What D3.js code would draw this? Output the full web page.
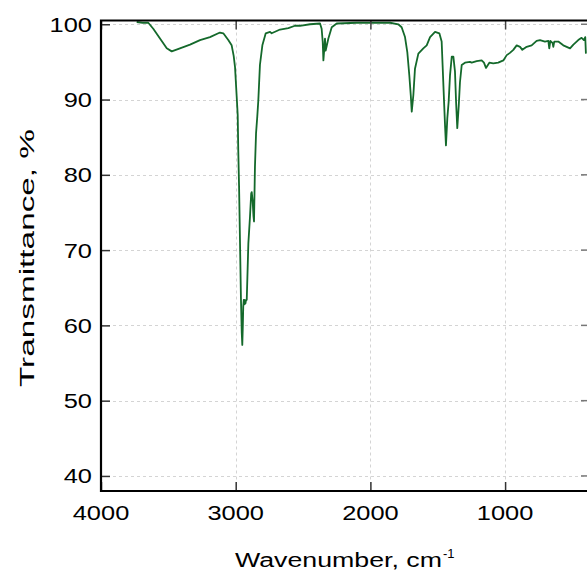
<!DOCTYPE html>
<html>
<head>
<meta charset="utf-8">
<script src="https://cdn.jsdelivr.net/npm/d3@7"></script>
<style>
  html, body { margin: 0; padding: 0; background: #fff; overflow: hidden; }
  svg { display: block; overflow: hidden; }
  text { font-family: "Liberation Sans", Arial, sans-serif; fill: #000; }
</style>
</head>
<body>
<svg id="chart" width="587" height="571"></svg>
<script>
// Wavenumber (cm^-1) and transmittance (%)
const wavenumber = [3735,3690,3649,3612,3562,3512,3475,3414,3339,3265,3191,3117,3092,3055,3030,3015,3005,2993,2985,2981,2975,2968,2961,2955,2951,2947,2944,2940,2936,2932,2928,2924,2918,2906,2894,2885,2881,2877,2874,2868,2864,2857,2849,2840,2832,2820,2802,2777,2745,2733,2708,2671,2609,2560,2523,2448,2374,2362,2354,2349,2342,2337,2332,2312,2287,2250,2102,1978,1854,1793,1768,1743,1726,1711,1700,1693,1681,1669,1644,1607,1582,1557,1520,1488,1471,1464,1454,1446,1439,1429,1419,1409,1396,1384,1372,1364,1355,1344,1335,1322,1298,1261,1248,1211,1174,1157,1142,1117,1088,1051,1013,988,964,939,914,889,872,840,803,766,741,704,679,672,664,647,642,635,605,568,518,493,457,432,415,405,400];
const transmittance = [100.3,100.2,100.2,99.4,98.1,96.8,96.4,96.8,97.3,97.9,98.3,98.9,98.8,97.9,97.2,95.8,94.3,90.5,87.9,83.3,78.5,71,63.5,59,57.4,60,62.5,63.4,62.8,63.4,62.9,63.3,63.4,70.9,74.4,77.5,77.7,77.0,76.5,74.5,73.8,81.1,85.5,87.7,89.9,94.6,97.2,98.8,99.0,98.8,99.0,99.3,99.5,99.8,99.8,100,100.1,99.4,97.7,95.2,96.8,98.1,96.5,98.1,99.6,100.1,100.2,100.2,100.2,100.0,99.6,98.3,96.3,93.2,90.5,88.4,90.6,94.1,96.1,96.8,97.2,98.3,99.0,98.8,97.7,94.6,90.1,86.6,83.9,87.5,89.7,93.2,95.7,95.7,93.7,89.7,86.2,89.2,92.3,94.6,94.9,95,94.9,95.1,95.2,94.9,94.2,94.9,94.8,94.9,95.2,95.9,96.2,96.6,97.2,97.0,96.6,97.0,97.2,97.8,97.9,97.7,97.8,96.8,97.8,97.5,97.0,97.7,97.7,97.2,96.8,97.3,97.9,98.2,97.9,98.3,96.1];

const xTicks = [4000, 3000, 2000, 1000];
const yTicks = [40, 50, 60, 70, 80, 90, 100];
const xTitle = "Wavenumber, cm";
const xTitleSup = "-1";
const yTitle = "Transmittance, %";

const svg = d3.select("#chart");
const pLeft = 101, pRight = 594, pTop = 20.5, pBottom = 491;

const x = d3.scaleLinear().domain([4000, 4000 - (pRight - pLeft) * 7.424]).range([pLeft, pRight]);
const y = d3.scaleLinear().domain([38, 100.5]).range([pBottom, pTop]);

// grid
const grid = svg.append("g").attr("stroke", "#d4d4d4").attr("stroke-width", 1)
  .attr("stroke-dasharray", "3,3").attr("fill", "none");
grid.selectAll("line.h").data(yTicks).join("line").attr("class", "h")
  .attr("x1", pLeft).attr("x2", 587)
  .attr("y1", d => Math.round(y(d)) + 0.5).attr("y2", d => Math.round(y(d)) + 0.5);
grid.selectAll("line.v").data(xTicks.slice(1)).join("line").attr("class", "v")
  .attr("y1", pTop).attr("y2", pBottom)
  .attr("x1", d => Math.round(x(d)) + 0.5).attr("x2", d => Math.round(x(d)) + 0.5);

// line
const data = wavenumber.map((w, i) => [w, transmittance[i]]);
svg.append("path").datum(data)
  .attr("fill", "none").attr("stroke", "#14692b").attr("stroke-width", 1.8)
  .attr("stroke-linejoin", "round")
  .attr("d", d3.line().x(d => x(d[0])).y(d => y(d[1])));

// axes with inward ticks
const axL = d3.axisLeft(y).tickValues(yTicks).tickSize(-9).tickFormat("");
const axB = d3.axisBottom(x).tickValues(xTicks).tickSize(-9).tickFormat("");
const axT = d3.axisTop(x).tickValues(xTicks).tickSize(-9).tickFormat("");

function styleAxis(g, tickColor) {
  g.select(".domain").remove();
  g.selectAll(".tick line").attr("stroke", tickColor).attr("stroke-width", 1.5);
}
svg.append("g").attr("transform", `translate(${pLeft},0)`).call(axL).call(g => styleAxis(g, "#333"));
svg.append("g").attr("transform", `translate(0,${pBottom})`).call(axB).call(g => styleAxis(g, "#333"));
svg.append("g").attr("transform", `translate(0,${pTop})`).call(axT).call(g => styleAxis(g, "#444"));
// right-side ticks (stubs at the clipped right edge)
svg.append("g").selectAll("line").data(yTicks).join("line")
  .attr("x1", 581).attr("x2", 587)
  .attr("y1", d => y(d)).attr("y2", d => y(d))
  .attr("stroke", "#777").attr("stroke-width", 1.5);

// frame: left, top and bottom sides only (right side lies beyond the picture)
svg.append("path")
  .attr("d", `M587,${pTop}H${pLeft}V${pBottom}H587`)
  .attr("fill", "none").attr("stroke", "#000").attr("stroke-width", 2.2);

// tick labels (horizontally stretched like the reference)
const sx = 1.24;
svg.append("g").selectAll("text").data(yTicks).join("text")
  .attr("transform", d => `translate(92,${y(d) + 7.5}) scale(${sx},1)`)
  .attr("text-anchor", "end").attr("font-size", 20.5)
  .text(d => d);
svg.append("g").selectAll("text").data(xTicks).join("text")
  .attr("transform", d => `translate(${x(d)},${519.5}) scale(${sx},1)`)
  .attr("text-anchor", "middle").attr("font-size", 20.5)
  .text(d => d);

// axis titles
const xt = svg.append("text")
  .attr("x", 235).attr("y", 567).attr("font-size", 20);
xt.append("tspan").attr("textLength", 207).attr("lengthAdjust", "spacingAndGlyphs").text(xTitle);
xt.append("tspan").attr("font-size", 13).attr("dy", -9).attr("dx", 1).text(xTitleSup);

svg.append("text")
  .attr("transform", `translate(34,387) rotate(-90)`)
  .attr("font-size", 20)
  .attr("textLength", 258).attr("lengthAdjust", "spacingAndGlyphs")
  .text(yTitle);
</script>
</body>
</html>
